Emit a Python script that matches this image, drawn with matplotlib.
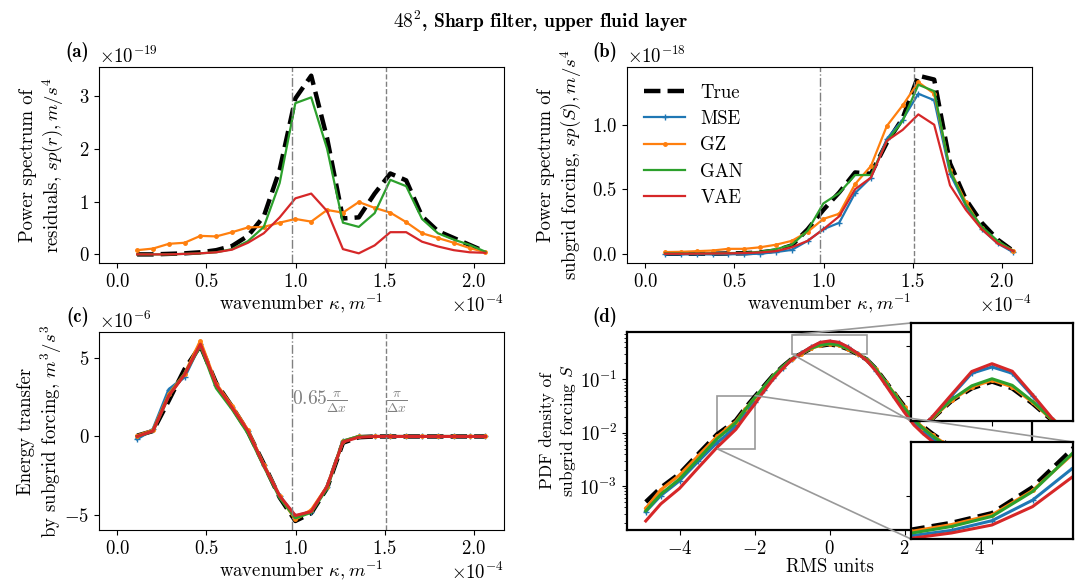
import numpy as np
import matplotlib
matplotlib.use('Agg')
import matplotlib.pyplot as plt
from mpl_toolkits.axes_grid1.inset_locator import mark_inset

plt.rcParams['font.family'] = 'serif'
plt.rcParams['font.serif'] = ['cmr10']
plt.rcParams['mathtext.fontset'] = 'cm'
plt.rcParams['axes.formatter.use_mathtext'] = True
plt.rcParams['axes.formatter.limits'] = (-3, 3)
plt.rcParams['font.size'] = 13.5

# wavenumber, in units of 1e-4 m^-1
kappa = [0.111, 0.200, 0.289, 0.377, 0.466, 0.555, 0.644, 0.733, 0.822, 0.911, 0.999, 1.088,
         1.177, 1.266, 1.355, 1.444, 1.532, 1.621, 1.710, 1.799, 1.888, 1.977, 2.066]

# (a) power spectrum of residuals, units 1e-19
spr_true = [0.0, 0.0, 0.01, 0.02, 0.04, 0.08, 0.16, 0.35, 0.72, 1.6, 2.95, 3.38,
            2.2, 0.68, 0.70, 1.15, 1.53, 1.40, 0.72, 0.44, 0.31, 0.18, 0.05]
spr_gz = [0.08, 0.11, 0.2, 0.22, 0.35, 0.34, 0.42, 0.51, 0.52, 0.6, 0.67, 0.62,
          0.84, 0.79, 0.99, 0.88, 0.79, 0.61, 0.40, 0.31, 0.22, 0.12, 0.04]
spr_gan = [0.0, 0.0, 0.0, 0.01, 0.02, 0.04, 0.1, 0.25, 0.52, 1.35, 2.86, 2.97,
           2.0, 0.6, 0.52, 0.78, 1.41, 1.29, 0.67, 0.40, 0.28, 0.18, 0.05]
spr_vae = [0.0, 0.0, 0.0, 0.01, 0.02, 0.04, 0.09, 0.22, 0.40, 0.70, 1.06, 1.15,
           0.82, 0.10, 0.02, 0.17, 0.42, 0.42, 0.24, 0.15, 0.08, 0.04, 0.03]

# (b) power spectrum of subgrid forcing, units 1e-18
sps_true = [0.0, 0.0, 0.0, 0.0, 0.002, 0.004, 0.01, 0.025, 0.065, 0.19, 0.34, 0.475,
            0.63, 0.62, 0.86, 1.05, 1.38, 1.35, 0.70, 0.42, 0.24, 0.11, 0.02]
sps_mse = [-0.005, -0.005, -0.005, -0.005, -0.004, -0.003, 0.0, 0.013, 0.03, 0.10, 0.19, 0.24,
           0.47, 0.59, 0.89, 1.04, 1.24, 1.19, 0.62, 0.37, 0.19, 0.08, 0.01]
sps_gz = [0.013, 0.015, 0.02, 0.025, 0.038, 0.038, 0.05, 0.07, 0.10, 0.17, 0.27, 0.31,
          0.54, 0.68, 0.99, 1.15, 1.33, 1.24, 0.65, 0.40, 0.20, 0.09, 0.025]
sps_gan = [0.003, 0.003, 0.003, 0.004, 0.005, 0.007, 0.015, 0.035, 0.07, 0.18, 0.39, 0.47,
           0.61, 0.61, 0.87, 1.03, 1.31, 1.26, 0.645, 0.38, 0.21, 0.10, 0.02]
sps_vae = [0.0, 0.0, 0.001, 0.002, 0.003, 0.005, 0.01, 0.02, 0.05, 0.10, 0.19, 0.29,
           0.50, 0.59, 0.875, 0.96, 1.08, 1.00, 0.53, 0.34, 0.19, 0.08, 0.02]

# (c) energy transfer, units 1e-6
tr_true = [0.05, 0.35, 2.3, 4.3, 5.8, 3.4, 1.9, 0.3, -1.75, -3.9, -5.4, -4.9,
           -3.3, -0.4, -0.05, 0.0, 0.0, 0.0, 0.0, 0.0, 0.0, 0.0, 0.0]
tr_mse = [-0.15, 0.45, 3.0, 3.8, 5.9, 3.3, 1.9, 0.35, -1.8, -3.8, -5.1, -4.8,
          -3.2, -0.3, 0.0, 0.0, 0.0, 0.0, 0.0, 0.0, 0.0, 0.0, 0.0]
tr_gz = [0.05, 0.4, 2.7, 4.0, 6.1, 3.35, 1.95, 0.4, -1.8, -3.8, -5.3, -4.7,
         -3.2, -0.3, 0.0, 0.0, 0.0, 0.0, 0.0, 0.0, 0.0, 0.0, 0.0]
tr_gan = [0.0, 0.35, 2.6, 4.0, 5.8, 3.1, 1.75, 0.2, -1.9, -3.9, -5.2, -4.85,
          -3.3, -0.3, 0.0, 0.0, 0.0, 0.0, 0.0, 0.0, 0.0, 0.0, 0.0]
tr_vae = [0.0, 0.35, 2.6, 3.95, 5.9, 3.3, 1.85, 0.35, -1.85, -3.8, -5.05, -4.8,
          -3.2, -0.35, -0.05, 0.0, 0.0, 0.0, 0.0, 0.0, 0.0, 0.0, 0.0]

# (d) PDF of subgrid forcing
pdf_x = [-4.9, -4.5, -4.0, -3.5, -3.0, -2.75, -2.5, -2.25, -2.0, -1.75, -1.5, -1.25, -1.0,
         -0.75, -0.5, -0.25, 0.0, 0.25, 0.5, 0.75, 1.0, 1.25, 1.5, 1.75, 2.0, 2.25, 2.5,
         2.75, 3.0, 3.5, 4.0, 4.5, 5.0]
pdf_true = [5.0e-4, 9.3e-4, 1.7e-3, 4.0e-3, 9.3e-3, 0.0125, 0.017, 0.029, 0.047, 0.075, 0.12,
            0.175, 0.245, 0.305, 0.38, 0.43, 0.457, 0.43, 0.37, 0.30, 0.235, 0.155, 0.09,
            0.053, 0.031, 0.019, 0.013, 0.0095, 0.0072, 0.0037, 0.0018, 9.0e-4, 4.5e-4]
pdf_gz = [3.8e-4, 8.5e-4, 1.6e-3, 3.7e-3, 8.5e-3, 0.0117, 0.0162, 0.0275, 0.0445, 0.072, 0.117,
          0.172, 0.243, 0.305, 0.382, 0.435, 0.462, 0.436, 0.374, 0.302, 0.236, 0.155, 0.089,
          0.052, 0.030, 0.018, 0.0124, 0.009, 0.0068, 0.0035, 0.0017, 8.4e-4, 4.2e-4]
pdf_gan = [3.4e-4, 7.0e-4, 1.35e-3, 3.2e-3, 7.7e-3, 0.0108, 0.0155, 0.027, 0.045, 0.073, 0.118,
           0.174, 0.245, 0.308, 0.385, 0.44, 0.468, 0.442, 0.378, 0.304, 0.236, 0.154, 0.088,
           0.051, 0.029, 0.0175, 0.012, 0.0087, 0.0065, 0.0032, 0.0015, 7.2e-4, 3.5e-4]
pdf_mse = [3.3e-4, 6.6e-4, 1.25e-3, 2.9e-3, 6.5e-3, 0.009, 0.0135, 0.023, 0.038, 0.064, 0.107,
           0.165, 0.24, 0.31, 0.40, 0.49, 0.515, 0.49, 0.40, 0.305, 0.228, 0.145, 0.082,
           0.046, 0.026, 0.0155, 0.0105, 0.0076, 0.0057, 0.0028, 0.0013, 6.2e-4, 3.0e-4]
pdf_vae = [2.2e-4, 4.6e-4, 9.0e-4, 2.2e-3, 5.3e-3, 0.0078, 0.0115, 0.020, 0.034, 0.060, 0.102,
           0.160, 0.238, 0.312, 0.405, 0.497, 0.528, 0.498, 0.405, 0.308, 0.225, 0.140, 0.078,
           0.043, 0.024, 0.014, 0.0095, 0.0068, 0.005, 0.0024, 0.0011, 5.2e-4, 2.4e-4]

k = np.array(kappa) * 1e-4
dx = 1e6 / 48
k_cut = 0.65 * np.pi / dx
k_nyq = np.pi / dx


def draw(ax, x, true, mse, gz, gan, vae, lw=1.6):
    ax.plot(x, true, color='k', ls='--', lw=3.2, label='True')
    if mse is not None:
        ax.plot(x, mse, color='tab:blue', lw=lw, marker='+', ms=4, label='MSE')
    ax.plot(x, gz, color='tab:orange', lw=lw, marker='.', ms=5, label='GZ')
    ax.plot(x, gan, color='tab:green', lw=lw, label='GAN')
    ax.plot(x, vae, color='tab:red', lw=lw, label='VAE')


def panel_label(ax, s):
    ax.text(-0.025, 1.025, s, transform=ax.transAxes, ha='right', va='bottom',
            fontfamily='cmb10', fontsize=13.5)


fig = plt.figure(figsize=(10.82, 5.84), dpi=100)
ax_a = fig.add_axes([0.0915, 0.5491, 0.3743, 0.3366])
ax_b = fig.add_axes([0.5795, 0.5491, 0.3743, 0.3366])
ax_c = fig.add_axes([0.0915, 0.0925, 0.3743, 0.339])
ax_d = fig.add_axes([0.5795, 0.0925, 0.3743, 0.339])

draw(ax_a, k, np.array(spr_true) * 1e-19, None, np.array(spr_gz) * 1e-19,
     np.array(spr_gan) * 1e-19, np.array(spr_vae) * 1e-19)
draw(ax_b, k, np.array(sps_true) * 1e-18, np.array(sps_mse) * 1e-18, np.array(sps_gz) * 1e-18,
     np.array(sps_gan) * 1e-18, np.array(sps_vae) * 1e-18)
draw(ax_c, k, np.array(tr_true) * 1e-6, np.array(tr_mse) * 1e-6, np.array(tr_gz) * 1e-6,
     np.array(tr_gan) * 1e-6, np.array(tr_vae) * 1e-6, lw=2.2)

for ax in [ax_a, ax_b, ax_c]:
    ax.axvline(k_cut, color='gray', ls='-.', lw=1)
    ax.axvline(k_nyq, color='gray', ls='--', lw=1)
    ax.set_xlim(-0.103e-4, 2.17e-4)
    ax.set_xlabel(r'wavenumber $\kappa, m^{-1}$', labelpad=1)

ax_a.set_ylabel('Power spectrum of\n' + r'residuals, $sp(r), m/s^4$', labelpad=9)
ax_b.set_ylabel('Power spectrum of\n' + r'subgrid forcing, $sp(S), m/s^4$', labelpad=6)
ax_c.set_ylabel('Energy transfer\n' + r'by subgrid forcing, $m^3/s^3$', labelpad=0)
ax_b.legend(loc='upper left', frameon=False, handlelength=2.2, labelspacing=0.45)

ax_c.text(k_cut, 2.2e-6, r'$0.65\frac{\pi}{\Delta x}$', color='gray', va='center', ha='left', fontsize=14)
ax_c.text(k_nyq, 2.2e-6, r'$\frac{\pi}{\Delta x}$', color='gray', va='center', ha='left', fontsize=14)

# (d) pdf with zoomed insets
draw(ax_d, pdf_x, pdf_true, pdf_mse, pdf_gz, pdf_gan, pdf_vae, lw=2.2)
ax_d.set_yscale('log')
ax_d.set_xlim(-5.4, 5.4)
ax_d.set_xticks([-4, -2, 0, 2, 4])
ax_d.set_xlabel('RMS units', labelpad=0)
ax_d.set_ylabel('PDF density of\n' + r'subgrid forcing $S$', fontsize=12.5, labelpad=1)
for sp in ax_d.spines.values():
    sp.set_linewidth(1.6)

ins1 = fig.add_axes([911 / 1082, 1 - 421 / 584, 162 / 1082, 98 / 584])
ins2 = fig.add_axes([911 / 1082, 1 - 539 / 584, 162 / 1082, 97 / 584])
for ins in [ins1, ins2]:
    draw(ins, pdf_x, pdf_true, pdf_mse, pdf_gz, pdf_gan, pdf_vae, lw=2.2)
    ins.tick_params(labelleft=False, labelbottom=False)
    for sp in ins.spines.values():
        sp.set_linewidth(1.6)
ins1.set_xlim(-1, 1)
ins1.set_ylim(0.3, 0.69)
ins1.set_xticks([0])
ins1.set_yticks([0.4, 0.6])
ins2.set_xlim(-3, -2)
ins2.set_ylim(0.005, 0.05)
ins2.set_xticks([-2.5])
ins2.set_yticks([0.025])
mark_inset(ax_d, ins1, loc1=2, loc2=3, fc='none', ec='0.6', lw=1.2)
mark_inset(ax_d, ins2, loc1=1, loc2=3, fc='none', ec='0.6', lw=1.2)

panel_label(ax_a, '(a)')
panel_label(ax_b, '(b)')
panel_label(ax_c, '(c)')
panel_label(ax_d, '(d)')

fig.suptitle(r'$48^2$, Sharp filter, upper fluid layer', fontfamily='cmb10', fontsize=14, y=0.985)

fig.savefig('out.png', dpi=100)
